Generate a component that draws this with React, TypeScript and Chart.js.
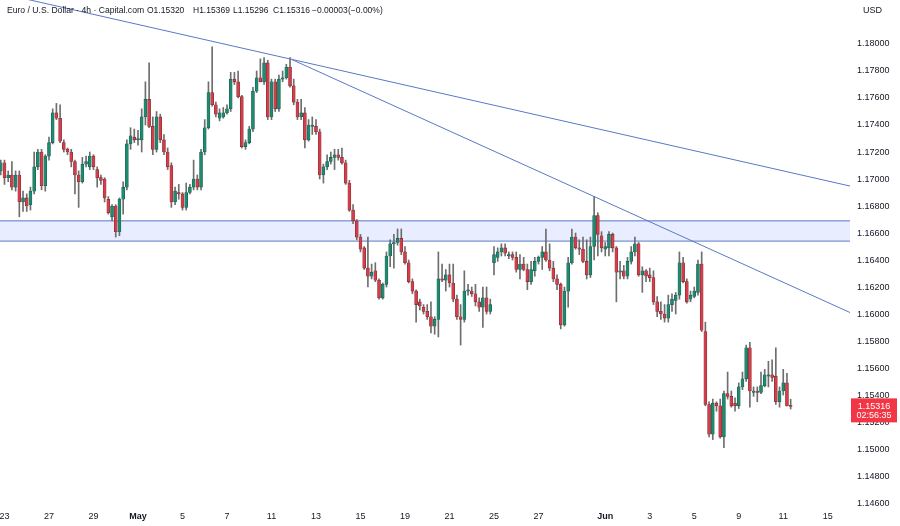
import React, { useEffect, useRef } from 'react';
import { Chart, registerables } from 'chart.js';

Chart.register(...registerables);

// ---- data: EUR/USD 4h candles (first candle index = -1) ----
const firstCandle = -1;
const opens = [
  1.1706, 1.1712, 1.1701, 1.1703, 1.1694, 1.1703, 1.1683, 1.1686, 1.1681, 1.1691,
  1.1709, 1.1720, 1.1695, 1.1717, 1.1727, 1.1749, 1.1745, 1.1727, 1.1722, 1.1720,
  1.1713, 1.1703, 1.1698, 1.1711, 1.1709, 1.1717, 1.1707, 1.1701, 1.1700, 1.1685,
  1.1672, 1.1680, 1.1661, 1.1685, 1.1694, 1.1726, 1.1731, 1.1729, 1.1729, 1.1746,
  1.1759, 1.1739, 1.1722, 1.1746, 1.1729, 1.1720, 1.1710, 1.1683, 1.1690, 1.1689,
  1.1679, 1.1690, 1.1694, 1.1700, 1.1694, 1.1720, 1.1738, 1.1764, 1.1755, 1.1745,
  1.1746, 1.1749, 1.1752, 1.1774, 1.1772, 1.1761, 1.1724, 1.1727, 1.1737, 1.1765,
  1.1775, 1.1772, 1.1786, 1.1746, 1.1772, 1.1752, 1.1774, 1.1775, 1.1783, 1.1769,
  1.1757, 1.1746, 1.1749, 1.1729, 1.1739, 1.1739, 1.1735, 1.1703, 1.1709, 1.1713,
  1.1716, 1.1718, 1.1716, 1.1712, 1.1697, 1.1677, 1.1669, 1.1657, 1.1649, 1.1634,
  1.1628, 1.1632, 1.1625, 1.1612, 1.1622, 1.1643, 1.1652, 1.1653, 1.1656, 1.1646,
  1.1638, 1.1624, 1.1617, 1.1609, 1.1605, 1.1602, 1.1598, 1.1591, 1.1596, 1.1626,
  1.1625, 1.1629, 1.1623, 1.1611, 1.1598, 1.1596, 1.1617, 1.1617, 1.1615, 1.1609,
  1.1605, 1.1612, 1.1602, 1.1638, 1.1642, 1.1646, 1.1649, 1.1643, 1.1644, 1.1642,
  1.1633, 1.1637, 1.1633, 1.1624, 1.1632, 1.1639, 1.1642, 1.1646, 1.1640, 1.1634,
  1.1626, 1.1622, 1.1592, 1.1617, 1.1638, 1.1657, 1.1649, 1.1648, 1.1639, 1.1629,
  1.1650, 1.1673, 1.1658, 1.1648, 1.1649, 1.1659, 1.1649, 1.1631, 1.1632, 1.1628,
  1.1639, 1.1646, 1.1652, 1.1629, 1.1632, 1.1629, 1.1627, 1.1609, 1.1602, 1.1600,
  1.1597, 1.1607, 1.1610, 1.1614, 1.1638, 1.1624, 1.1611, 1.1613, 1.1616, 1.1637,
  1.1587, 1.1533, 1.1511, 1.1534, 1.1532, 1.1509, 1.1541, 1.1539, 1.1534, 1.1532,
  1.1546, 1.1552, 1.1575, 1.1542, 1.1543, 1.1542, 1.1547, 1.1554, 1.1555, 1.1554,
  1.1535, 1.1543, 1.1549, 1.15320,
];
const highs = [
  1.1714, 1.1714, 1.1706, 1.1713, 1.1706, 1.1706, 1.1691, 1.1689, 1.1694, 1.1720,
  1.1722, 1.1722, 1.1718, 1.1731, 1.1752, 1.1756, 1.1755, 1.1729, 1.1723, 1.1722,
  1.1714, 1.1706, 1.1716, 1.1717, 1.1720, 1.1718, 1.1709, 1.1703, 1.1701, 1.1687,
  1.1681, 1.1681, 1.1686, 1.1698, 1.1729, 1.1738, 1.1737, 1.1736, 1.1752, 1.1772,
  1.1786, 1.1746, 1.1750, 1.1748, 1.1733, 1.1723, 1.1712, 1.1694, 1.1696, 1.1690,
  1.1697, 1.1696, 1.1714, 1.1703, 1.1722, 1.1744, 1.1772, 1.1798, 1.1757, 1.1752,
  1.1753, 1.1755, 1.1779, 1.1779, 1.1780, 1.1762, 1.1729, 1.1739, 1.1768, 1.1780,
  1.1789, 1.1790, 1.1788, 1.1774, 1.1774, 1.1777, 1.1780, 1.1785, 1.1790, 1.1774,
  1.1759, 1.1759, 1.1753, 1.1744, 1.1746, 1.1744, 1.1737, 1.1711, 1.1718, 1.1720,
  1.1722, 1.1722, 1.1723, 1.1714, 1.1699, 1.1681, 1.1670, 1.1659, 1.1650, 1.1657,
  1.1637, 1.1638, 1.1626, 1.1623, 1.1646, 1.1655, 1.1659, 1.1663, 1.1663, 1.1650,
  1.1640, 1.1626, 1.1618, 1.1611, 1.1607, 1.1607, 1.1609, 1.1598, 1.1646, 1.1637,
  1.1633, 1.1637, 1.1637, 1.1614, 1.1607, 1.1632, 1.1622, 1.1620, 1.1622, 1.1612,
  1.1620, 1.1620, 1.1611, 1.1650, 1.1649, 1.1652, 1.1652, 1.1646, 1.1646, 1.1646,
  1.1644, 1.1642, 1.1637, 1.1639, 1.1642, 1.1643, 1.1650, 1.1663, 1.1652, 1.1639,
  1.1629, 1.1623, 1.1620, 1.1642, 1.1663, 1.1660, 1.1655, 1.1657, 1.1655, 1.1657,
  1.1687, 1.1675, 1.1661, 1.1653, 1.1661, 1.1660, 1.1650, 1.1639, 1.1636, 1.1642,
  1.1650, 1.1657, 1.1653, 1.1635, 1.1633, 1.1634, 1.1632, 1.1613, 1.1609, 1.1607,
  1.1614, 1.1615, 1.1616, 1.1646, 1.1642, 1.1626, 1.1617, 1.1620, 1.1640, 1.1646,
  1.1594, 1.1535, 1.1537, 1.1535, 1.1537, 1.1543, 1.1557, 1.1543, 1.1538, 1.1549,
  1.1557, 1.1577, 1.1579, 1.1546, 1.1546, 1.1557, 1.1559, 1.1565, 1.1566, 1.1575,
  1.1546, 1.1559, 1.1556, 1.15369,
];
const lows = [
  1.1703, 1.1696, 1.1698, 1.1692, 1.1691, 1.1672, 1.1676, 1.1676, 1.1677, 1.1689,
  1.1707, 1.1692, 1.1691, 1.1714, 1.1726, 1.1744, 1.1727, 1.1720, 1.1718, 1.1709,
  1.1689, 1.1679, 1.1697, 1.1709, 1.1707, 1.1707, 1.1694, 1.1696, 1.1683, 1.1674,
  1.1669, 1.1657, 1.1658, 1.1674, 1.1692, 1.1722, 1.1727, 1.1725, 1.1720, 1.1740,
  1.1738, 1.1718, 1.1720, 1.1727, 1.1718, 1.1707, 1.1679, 1.1681, 1.1685, 1.1677,
  1.1677, 1.1689, 1.1692, 1.1692, 1.1692, 1.1718, 1.1737, 1.1754, 1.1746, 1.1743,
  1.1745, 1.1748, 1.1750, 1.1770, 1.1760, 1.1723, 1.1722, 1.1726, 1.1735, 1.1764,
  1.1772, 1.1770, 1.1744, 1.1744, 1.1750, 1.1750, 1.1772, 1.1774, 1.1768, 1.1755,
  1.1744, 1.1744, 1.1723, 1.1728, 1.1733, 1.1733, 1.1700, 1.1697, 1.1707, 1.1711,
  1.1707, 1.1714, 1.1711, 1.1696, 1.1676, 1.1667, 1.1655, 1.1646, 1.1633, 1.1620,
  1.1626, 1.1624, 1.1611, 1.1611, 1.1620, 1.1635, 1.1634, 1.1651, 1.1644, 1.1637,
  1.1623, 1.1615, 1.1594, 1.1603, 1.1600, 1.1596, 1.1586, 1.1585, 1.1583, 1.1624,
  1.1617, 1.1620, 1.1609, 1.1596, 1.1577, 1.1594, 1.1614, 1.1613, 1.1606, 1.1602,
  1.1590, 1.1600, 1.1600, 1.1629, 1.1639, 1.1643, 1.1643, 1.1641, 1.1640, 1.1631,
  1.1626, 1.1632, 1.1618, 1.1622, 1.1628, 1.1637, 1.1633, 1.1639, 1.1632, 1.1624,
  1.1618, 1.1589, 1.1591, 1.1605, 1.1637, 1.1648, 1.1644, 1.1638, 1.1626, 1.1627,
  1.1640, 1.1643, 1.1646, 1.1643, 1.1643, 1.1646, 1.1609, 1.1626, 1.1626, 1.1626,
  1.1637, 1.1643, 1.1628, 1.1616, 1.1624, 1.1624, 1.1607, 1.1598, 1.1596, 1.1594,
  1.1594, 1.1602, 1.1600, 1.1611, 1.1623, 1.1608, 1.1609, 1.1612, 1.1614, 1.1587,
  1.1532, 1.1509, 1.1507, 1.1528, 1.1508, 1.1501, 1.1537, 1.1531, 1.1528, 1.1530,
  1.1544, 1.1550, 1.1531, 1.1539, 1.1535, 1.1541, 1.1546, 1.1546, 1.1550, 1.1533,
  1.1531, 1.1540, 1.1532, 1.15296,
];
const closes = [
  1.1712, 1.1701, 1.1703, 1.1694, 1.1703, 1.1683, 1.1686, 1.1680, 1.1691, 1.1709,
  1.1720, 1.1695, 1.1717, 1.1727, 1.1749, 1.1745, 1.1728, 1.1722, 1.1720, 1.1713,
  1.1703, 1.1698, 1.1711, 1.1713, 1.1717, 1.1709, 1.1701, 1.1699, 1.1686, 1.1675,
  1.1680, 1.1661, 1.1685, 1.1694, 1.1726, 1.1732, 1.1729, 1.1730, 1.1746, 1.1759,
  1.1739, 1.1722, 1.1746, 1.1729, 1.1720, 1.1709, 1.1683, 1.1691, 1.1689, 1.1679,
  1.1690, 1.1694, 1.1700, 1.1694, 1.1720, 1.1738, 1.1764, 1.1755, 1.1748, 1.1749,
  1.1749, 1.1752, 1.1774, 1.1772, 1.1761, 1.1724, 1.1727, 1.1737, 1.1765, 1.1775,
  1.1772, 1.1786, 1.1746, 1.1772, 1.1752, 1.1774, 1.1775, 1.1783, 1.1769, 1.1757,
  1.1746, 1.1749, 1.1729, 1.1740, 1.1740, 1.1735, 1.1703, 1.1709, 1.1713, 1.1716,
  1.1718, 1.1716, 1.1712, 1.1697, 1.1677, 1.1669, 1.1657, 1.1648, 1.1634, 1.1628,
  1.1631, 1.1625, 1.1612, 1.1622, 1.1643, 1.1652, 1.1653, 1.1656, 1.1646, 1.1638,
  1.1624, 1.1617, 1.1607, 1.1606, 1.1602, 1.1598, 1.1591, 1.1596, 1.1626, 1.1625,
  1.1629, 1.1623, 1.1611, 1.1598, 1.1596, 1.1617, 1.1618, 1.1615, 1.1609, 1.1605,
  1.1612, 1.1602, 1.1607, 1.1644, 1.1646, 1.1649, 1.1645, 1.1644, 1.1642, 1.1633,
  1.1637, 1.1633, 1.1624, 1.1633, 1.1639, 1.1642, 1.1646, 1.1640, 1.1634, 1.1626,
  1.1622, 1.1592, 1.1617, 1.1638, 1.1657, 1.1649, 1.1648, 1.1639, 1.1629, 1.1650,
  1.1673, 1.1659, 1.1649, 1.1650, 1.1659, 1.1649, 1.1631, 1.1632, 1.1628, 1.1639,
  1.1646, 1.1652, 1.1629, 1.1632, 1.1628, 1.1627, 1.1609, 1.1602, 1.1600, 1.1597,
  1.1607, 1.1611, 1.1614, 1.1638, 1.1624, 1.1609, 1.1614, 1.1617, 1.1637, 1.1588,
  1.1533, 1.1511, 1.1534, 1.1532, 1.1509, 1.1541, 1.1539, 1.1532, 1.1532, 1.1546,
  1.1552, 1.1575, 1.1543, 1.1543, 1.1542, 1.1547, 1.1555, 1.1555, 1.1553, 1.1535,
  1.1543, 1.1549, 1.15319, 1.15316,
];

// x-axis: candle index of each day label
const dayTickIdx = [0, 12, 24, 36, 48, 60, 72, 84, 96, 108, 120, 132, 144, 162, 174, 186, 198, 210, 222];
const dayLabels = ['23', '27', '29', 'May', '5', '7', '11', '13', '15', '19', '21', '25', '27', 'Jun', '3', '5', '9', '11', '15'];
const monthLabels = ['May', 'Jun'];

// y-axis price ticks
const priceTicks = [1.146, 1.148, 1.15, 1.152, 1.154, 1.156, 1.158, 1.16, 1.162, 1.164, 1.166, 1.168, 1.17, 1.172, 1.174, 1.176, 1.178, 1.18];

// drawings
const zonePrices = [1.1669, 1.1654]; // top, bottom of support/resistance zone
const zoneX = [-10, 240];
const trend1X = [-8, 228];
const trend1Y = [1.18419, 1.16948];
const trend2X = [77.5, 228];
const trend2Y = [1.17885, 1.16011];

const countdown = '02:56:35';
const title = 'Euro / U.S. Dollar · 4h · Capital.com';

// view range
const X_MIN = -1.21;
const X_MAX = 228.0;
const Y_MIN = 1.14578;
const Y_MAX = 1.18326;

const UP = '#1f8a70';
const DOWN = '#d23f4b';
const UP_BORDER = '#1a5e4e';
const DOWN_BORDER = '#7e2a31';
const WICK = '#6e6e6e';
const LINE = '#5a78c6';
const FONT = 'Liberation Sans, Arial, sans-serif';
const TEXT = '#131722';

const fmtMinus = (v: number, d: number) => (v < 0 ? '\u2212' : '') + Math.abs(v).toFixed(d);

export default function App() {
  const ref = useRef<HTMLCanvasElement>(null);

  const last = closes.length - 1;
  const chg = closes[last] - closes[last - 1];
  const pct = (chg / closes[last - 1]) * 100;
  const headerItems: [string, number][] = [
    [title, 7],
    ['O' + opens[last].toFixed(5), 147],
    ['H' + highs[last].toFixed(5), 193],
    ['L' + lows[last].toFixed(5), 233],
    ['C' + closes[last].toFixed(5), 273],
    [fmtMinus(chg, 5), 312],
    ['(' + fmtMinus(pct, 2) + '%)', 348],
  ];

  useEffect(() => {
    if (!ref.current) return;
    const xs = opens.map((_, i) => firstCandle + i);
    const isUp = opens.map((o, i) => closes[i] >= o);
    const bodies = xs.map((x, i) => ({ x, y: [opens[i], closes[i]] }));
    const wicks = xs.map((x, i) => ({ x, y: [lows[i], highs[i]] }));

    const overlay = {
      id: 'priceOverlay',
      afterDraw(chart: any) {
        const ctx = chart.ctx;
        const ys = chart.scales.y;
        const py = ys.getPixelForValue(closes[last]);
        ctx.save();
        ctx.fillStyle = '#f23645';
        ctx.fillRect(851, py - 8, 46, 24);
        ctx.fillStyle = '#ffffff';
        ctx.font = `9px ${FONT}`;
        ctx.textAlign = 'center';
        ctx.textBaseline = 'middle';
        ctx.fillText(closes[last].toFixed(5), 874, py + 0.5);
        ctx.fillText(countdown, 874, py + 9.5);
        ctx.restore();
      },
    };

    const chart = new Chart(ref.current, {
      type: 'bar',
      data: {
        datasets: [
          {
            type: 'line',
            data: zoneX.map((x) => ({ x, y: zonePrices[0] })),
            borderColor: LINE,
            borderWidth: 1,
            pointRadius: 0,
            fill: false,
            order: 6,
          } as any,
          {
            type: 'line',
            data: zoneX.map((x) => ({ x, y: zonePrices[1] })),
            borderColor: LINE,
            borderWidth: 1,
            pointRadius: 0,
            fill: '-1',
            backgroundColor: 'rgba(41, 98, 255, 0.11)',
            order: 5,
          } as any,
          {
            type: 'bar',
            data: wicks,
            backgroundColor: WICK,
            barThickness: 1,
            grouped: false,
            order: 4,
          } as any,
          {
            type: 'bar',
            data: bodies,
            backgroundColor: isUp.map((u) => (u ? UP : DOWN)),
            borderColor: isUp.map((u) => (u ? UP_BORDER : DOWN_BORDER)),
            borderWidth: 0.6,
            borderSkipped: false,
            barThickness: 3,
            minBarLength: 1,
            grouped: false,
            order: 3,
          } as any,
          {
            type: 'line',
            data: trend1X.map((x, i) => ({ x, y: trend1Y[i] })),
            borderColor: LINE,
            borderWidth: 1,
            pointRadius: 0,
            fill: false,
            order: 1,
          } as any,
          {
            type: 'line',
            data: trend2X.map((x, i) => ({ x, y: trend2Y[i] })),
            borderColor: LINE,
            borderWidth: 1,
            pointRadius: 0,
            fill: false,
            order: 1,
          } as any,
        ],
      },
      options: {
        animation: false,
        responsive: false,
        maintainAspectRatio: false,
        devicePixelRatio: 1,
        events: [],
        layout: { padding: 0 },
        plugins: { legend: { display: false }, tooltip: { enabled: false } },
        scales: {
          x: {
            type: 'linear',
            offset: false,
            min: X_MIN,
            max: X_MAX,
            grid: { display: false, drawTicks: false, offset: false },
            border: { display: false },
            afterBuildTicks: (s: any) => {
              s.ticks = dayTickIdx.map((v) => ({ value: v }));
            },
            afterFit: (s: any) => {
              s.height = 20;
              s.paddingLeft = 0;
              s.paddingRight = 0;
            },
            ticks: {
              autoSkip: false,
              maxRotation: 0,
              padding: 5,
              color: TEXT,
              font: (c: any) => ({
                family: FONT,
                size: 9,
                weight: monthLabels.includes(dayLabels[c.index]) ? 'bold' : 'normal',
              }),
              callback: (_v: any, i: number) => dayLabels[i],
            },
          },
          y: {
            type: 'linear',
            position: 'right',
            min: Y_MIN,
            max: Y_MAX,
            grid: { display: false, drawTicks: false },
            border: { display: false },
            afterBuildTicks: (s: any) => {
              s.ticks = priceTicks.map((v) => ({ value: v }));
            },
            afterFit: (s: any) => {
              s.width = 50;
              s.paddingTop = 0;
              s.paddingBottom = 0;
            },
            ticks: {
              padding: 7,
              color: TEXT,
              font: { family: FONT, size: 9 },
              callback: (v: any) => Number(v).toFixed(5),
            },
          },
        },
      },
      plugins: [overlay],
    } as any);

    return () => chart.destroy();
  }, []);

  return (
    <div style={{ position: 'fixed', left: 0, top: 0, width: 900, height: 526, background: '#ffffff', overflow: 'hidden' }}>
      <canvas ref={ref} width={900} height={526} style={{ display: 'block' }} />
      {headerItems.map(([t, x], i) => (
        <span
          key={i}
          style={{
            position: 'absolute',
            left: x,
            top: 4,
            fontFamily: FONT,
            fontSize: i === 0 ? 8.6 : 8.5,
            lineHeight: '12px',
            color: TEXT,
            whiteSpace: 'nowrap',
          }}
        >
          {t}
        </span>
      ))}
      <span
        style={{
          position: 'absolute',
          left: 863,
          top: 4,
          fontFamily: FONT,
          fontSize: 9,
          lineHeight: '12px',
          color: TEXT,
        }}
      >
        USD
      </span>
    </div>
  );
}
